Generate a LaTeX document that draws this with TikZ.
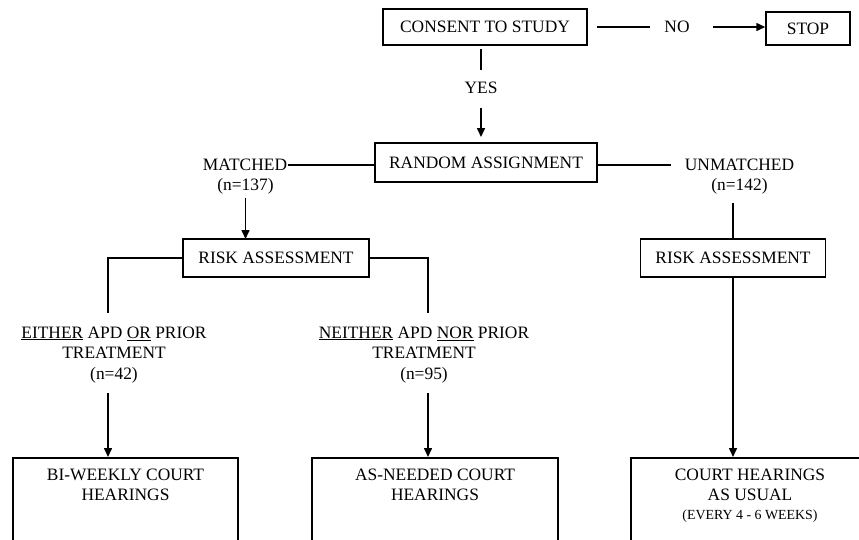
\documentclass[tikz,border=0pt]{standalone}
\usepackage{fontspec}
\setmainfont{Liberation Serif}
\usetikzlibrary{arrows.meta}

\begin{document}
\begin{tikzpicture}[x=1pt, y=-1pt, line width=1.5pt,
	every node/.style={font=\fontsize{17.4}{20.5}\selectfont},
	box/.style={draw, inner sep=0pt, minimum height=38pt},
	endbox/.style={draw, anchor=north, minimum height=110pt},
	lbl/.style={inner sep=0pt, align=center},
	arr/.style={-{Triangle[length=9pt,width=8pt]}}]
	% frame 859 x 539, bottom boxes run past the edge
	\clip (0,0) rectangle (859,539);
	
	% top row
	\node[box, minimum width=204pt, minimum height=36pt] (consent) at (485,27) {CONSENT TO STUDY};
	\node[lbl] (no) at (677,27) {NO};
	\node[box, minimum width=84pt, minimum height=33pt] (stop) at (808,28.5) {STOP};
	\node[lbl] (yes) at (481,88) {YES};
	\draw[shorten <=9pt, shorten >=14pt] (consent.east) -- (no.west);
	\draw[arr, shorten <=23pt] (no.east) -- (no.east -| stop.west);
	\draw[shorten <=3pt, shorten >=11pt] (consent.south -| yes.north) -- (yes.north);
	\draw[arr, shorten <=13pt, shorten >=6pt] (yes.south) -- (yes.south |- 0,143);
	
	% assignment
	\node[box, minimum width=222pt, minimum height=39pt] (random) at (486,162.5) {RANDOM ASSIGNMENT};
	\node[lbl] (matched) at (245,165) {MATCHED};
	\node[lbl] (n137) at (245.5,186) {(n=137)};
	\node[lbl] (unmatched) at (739.5,165) {UNMATCHED};
	\node[lbl] (n142) at (739.5,186) {(n=142)};
	\draw (matched.east) -- (matched.east -| random.west);
	\draw[shorten >=13pt] (random.east |- unmatched.west) -- (unmatched.west);
	\draw[arr, shorten <=3pt] (n137.south) -- (n137.south |- 0,239);
	
	% risk assessment
	\node[box, minimum width=186pt] (riskL) at (276,258) {RISK ASSESSMENT};
	\node[box, minimum width=185pt] (riskR) at (733,258) {RISK ASSESSMENT};
	\draw[shorten <=8pt] (riskR.north |- n142.south) -- (riskR.north);
	
	% split on the left
	\node[lbl, anchor=north] (either) at (114,326)
		{\underline{EITHER} APD \underline{OR} PRIOR\\TREATMENT\\(n=42)};
	\node[lbl, anchor=north] (neither) at (424,326)
		{\underline{NEITHER} APD \underline{NOR} PRIOR\\TREATMENT\\(n=95)};
	\coordinate (eitherTop) at (108,313);
	\coordinate (eitherBot) at (108,393);
	\coordinate (neitherTop) at (428,313);
	\coordinate (neitherBot) at (428,393);
	\draw (riskL.west) -| (eitherTop);
	\draw (riskL.east) -| (neitherTop);
	
	% outcomes
	\node[endbox, minimum width=225pt] (biweekly) at (125.5,457) {};
	\node[endbox, minimum width=246pt] (asneeded) at (435,457) {};
	\node[endbox, minimum width=238pt] (usual) at (750,457) {};
	\node[lbl, anchor=north] (biweeklyTxt) at ([yshift=-11pt]biweekly.north) {BI-WEEKLY COURT\\HEARINGS};
	\node[lbl, anchor=north] (asneededTxt) at ([yshift=-11pt]asneeded.north) {AS-NEEDED COURT\\HEARINGS};
	\node[lbl, anchor=north] (usualTxt) at ([yshift=-11pt]usual.north)
		{COURT HEARINGS\\AS USUAL\\[-2pt]{\fontsize{13.9}{16}\selectfont (EVERY 4 - 6 WEEKS)}};
	\draw[arr] (eitherBot) -- (eitherBot |- biweekly.north);
	\draw[arr] (neitherBot) -- (neitherBot |- asneeded.north);
	\draw[arr] (riskR.south) -- (riskR.south |- usual.north);
	
\end{tikzpicture}
\end{document}
